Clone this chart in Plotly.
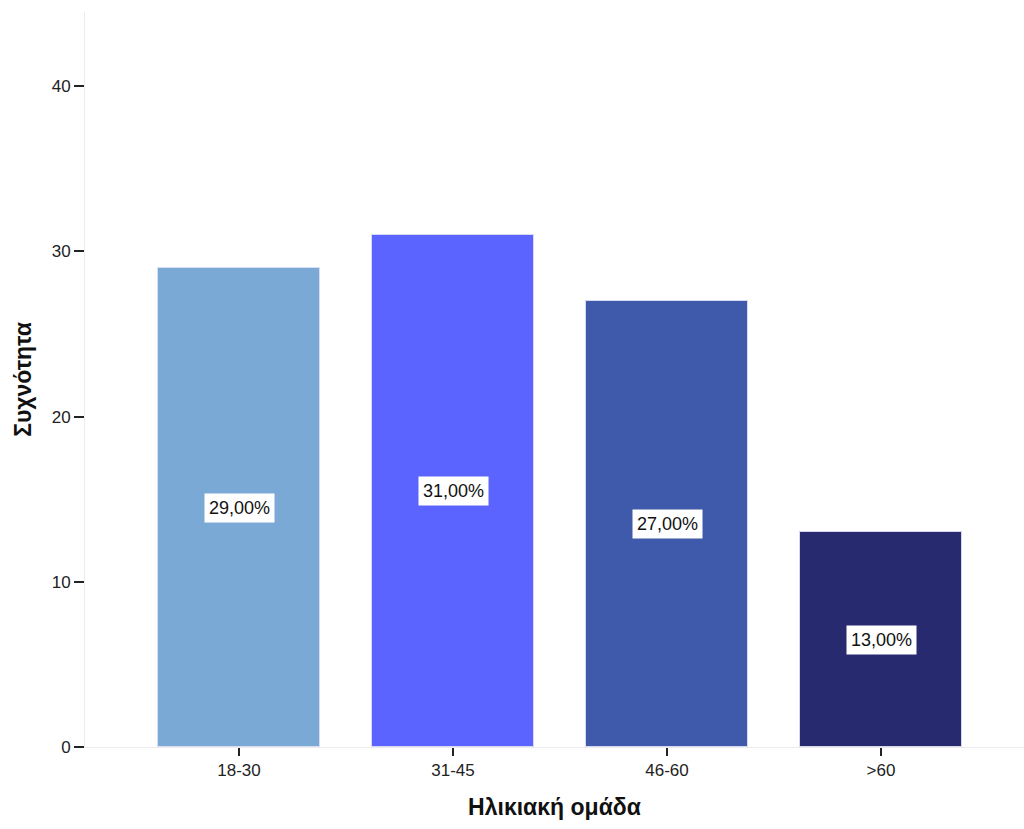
import plotly.graph_objects as go

# Age groups and their frequencies
age_groups = ["18-30", "31-45", "46-60", ">60"]
frequencies = [29, 31, 27, 13]
bar_colors = ["#7BA9D6", "#5C64FF", "#3F5AAA", "#282A70"]
y_ticks = [0, 10, 20, 30, 40]

total = sum(frequencies)
pct_labels = [f"{f / total * 100:.2f}%".replace(".", ",") for f in frequencies]

FONT = "Liberation Sans, Arial, sans-serif"

fig = go.Figure()
fig.add_trace(go.Bar(
    x=list(range(len(age_groups))),
    y=frequencies,
    width=0.757,
    marker=dict(color=bar_colors, line=dict(color="rgba(220,222,245,0.9)", width=1)),
    hoverinfo="skip",
))

# Percentage labels in white boxes at the middle of each bar
for i, (f, lab) in enumerate(zip(frequencies, pct_labels)):
    fig.add_annotation(
        x=i, y=f / 2, text=lab, showarrow=False,
        font=dict(family=FONT, size=18, color="#111111"),
        bgcolor="white", borderpad=4,
    )

fig.update_layout(
    width=1024, height=829,
    margin=dict(l=85, r=0, t=12, b=82),
    paper_bgcolor="white", plot_bgcolor="white",
    showlegend=False,
    bargap=0,
    font=dict(family=FONT, size=17, color="#222222"),
)

fig.update_xaxes(
    range=[-0.7196, 3.668],
    tickmode="array", tickvals=list(range(len(age_groups))), ticktext=age_groups,
    ticks="outside", ticklen=8, tickwidth=2, tickcolor="#222222",
    tickfont=dict(family=FONT, size=17, color="#222222"),
    showgrid=False, zeroline=False,
    showline=True, linecolor="#ececec", linewidth=1,
    title=dict(text="<b>Ηλικιακή ομάδα</b>", font=dict(family=FONT, size=23, color="#111111"), standoff=19),
)

fig.update_yaxes(
    range=[0, 44.5],
    tickmode="array", tickvals=y_ticks,
    ticks="outside", ticklen=10, tickwidth=2, tickcolor="#222222",
    tickfont=dict(family=FONT, size=17, color="#222222"),
    showgrid=False, zeroline=False,
    showline=True, linecolor="#ececec", linewidth=1,
    title=dict(text="<b>Συχνότητα</b>", font=dict(family=FONT, size=23, color="#111111"), standoff=13),
)

fig.write_html("out.html")
